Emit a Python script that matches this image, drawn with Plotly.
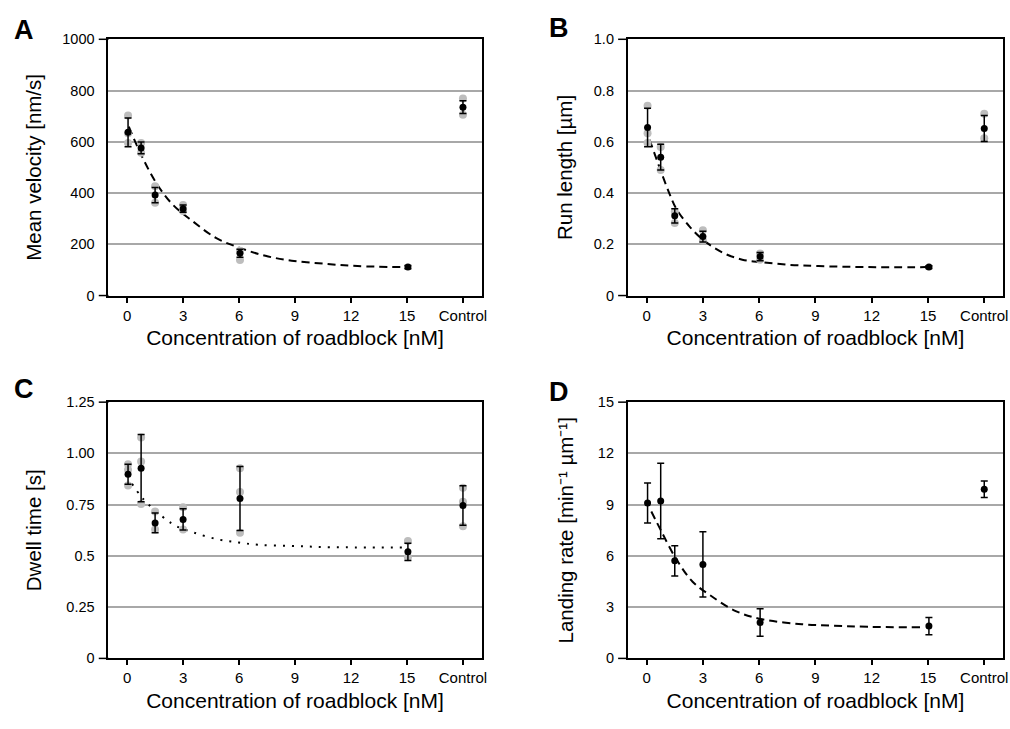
import plotly.graph_objects as go

W, H = 1010, 729

# ---------------- data ----------------
x_pos = [0.05, 0.75, 1.5, 3.0, 6.05, 15.05, 18.0]   # last = Control
x_tickvals = [0, 3, 6, 9, 12, 15, 18]
x_ticktext = ["0", "3", "6", "9", "12", "15", "Control"]

vel_mean = [637, 576, 392, 339, 165, 111, 735]
vel_err = [56, 23, 30, 14, 16, 6, 25]
vel_gray_x = [0.05, 0.05, 0.05, 0.75, 0.75, 1.5, 1.5, 3.0, 3.0, 6.05, 6.05, 18.0, 18.0]
vel_gray_y = [703, 633, 595, 595, 557, 427, 362, 353, 330, 175, 139, 769, 706]
vel_fit_x = [0.09, 0.79, 1.59, 2.47, 3.53, 4.76, 6.0, 7.41, 8.82, 10.6, 12.35, 14.8]
vel_fit_y = [659, 544, 436, 353, 289, 225, 187, 155, 136, 124, 115, 111]

run_mean = [0.656, 0.540, 0.311, 0.230, 0.152, 0.111, 0.652]
run_err = [0.075, 0.050, 0.028, 0.021, 0.016, 0.005, 0.051]
run_gray_x = [0.05, 0.05, 0.05, 0.75, 0.75, 1.5, 1.5, 3.0, 3.0, 6.05, 6.05, 18.0, 18.0]
run_gray_y = [0.741, 0.633, 0.595, 0.580, 0.490, 0.327, 0.283, 0.255, 0.215, 0.164, 0.140, 0.709, 0.614]
run_fit_x = [0.16, 0.69, 1.22, 1.57, 2.28, 2.98, 4.04, 5.1, 6.16, 7.57, 9.16, 11.8, 14.9]
run_fit_y = [0.608, 0.499, 0.397, 0.340, 0.270, 0.219, 0.168, 0.140, 0.130, 0.120, 0.115, 0.111, 0.111]

dwell_mean = [0.898, 0.928, 0.661, 0.678, 0.780, 0.520, 0.746]
dwell_err = [0.049, 0.164, 0.048, 0.052, 0.156, 0.042, 0.096]
dwell_gray_x = [0.05, 0.05, 0.05, 0.75, 0.75, 0.75, 1.5, 1.5, 3.0, 3.0, 6.05, 6.05, 6.05, 15.05, 15.05, 18.0, 18.0, 18.0]
dwell_gray_y = [0.947, 0.920, 0.844, 1.078, 0.960, 0.753, 0.717, 0.629, 0.737, 0.629, 0.927, 0.812, 0.613, 0.573, 0.494, 0.833, 0.764, 0.645]
dwell_fit_x = [0.26, 0.7, 1.09, 2.1, 2.65, 3.6, 4.9, 6.0, 7.06, 8.8, 10.6, 14.8]
dwell_fit_y = [0.852, 0.796, 0.756, 0.677, 0.645, 0.613, 0.580, 0.565, 0.554, 0.549, 0.543, 0.541]

land_mean = [9.10, 9.22, 5.71, 5.50, 2.10, 1.89, 9.90]
land_err = [1.17, 2.21, 0.88, 1.91, 0.80, 0.50, 0.48]
land_fit_x = [0.25, 0.78, 1.57, 2.45, 3.34, 4.75, 6.16, 8.28, 10.0, 11.8, 14.6]
land_fit_y = [8.6, 7.45, 5.83, 4.49, 3.73, 2.77, 2.29, 2.0, 1.91, 1.85, 1.82]

y_titles = ["Mean velocity [nm/s]", "Run length [µm]", "Dwell time [s]",
            "Landing rate [min⁻¹ µm⁻¹]"]
x_title = "Concentration of roadblock [nM]"
panel_letters = ["A", "B", "C", "D"]

# ---------------- layout helpers ----------------
FONT = "Liberation Sans, Arial, Helvetica, sans-serif"
def px(x):
    return x / W
def py(y):
    return 1 - y / H

panels = {
    1: dict(x0=109, x1=484, y0=32, y1=294),
    2: dict(x0=631, x1=1008, y0=32, y1=294),
    3: dict(x0=109, x1=484, y0=403, y1=665),
    4: dict(x0=631, x1=1008, y0=403, y1=665),
}

fig = go.Figure()

def add_panel(i, mean, err, gray_x, gray_y, fit_x, fit_y, dash):
    xa = "x" if i == 1 else f"x{i}"
    ya = "y" if i == 1 else f"y{i}"
    fig.add_trace(go.Scatter(x=fit_x, y=fit_y, mode="lines", line_shape="spline",
                             line=dict(color="black", width=2, dash=dash),
                             xaxis=xa, yaxis=ya, showlegend=False, hoverinfo="skip"))
    if gray_x:
        fig.add_trace(go.Scatter(x=gray_x, y=gray_y, mode="markers",
                                 marker=dict(color="#bdbdbd", size=8, line=dict(width=0)),
                                 xaxis=xa, yaxis=ya, showlegend=False))
    fig.add_trace(go.Scatter(x=x_pos, y=mean, mode="markers",
                             marker=dict(color="black", size=7),
                             error_y=dict(type="data", array=err, color="black",
                                          thickness=1.5, width=3.5),
                             xaxis=xa, yaxis=ya, showlegend=False))

add_panel(1, vel_mean, vel_err, vel_gray_x, vel_gray_y, vel_fit_x, vel_fit_y, "8px,5px")
add_panel(2, run_mean, run_err, run_gray_x, run_gray_y, run_fit_x, run_fit_y, "8px,5px")
add_panel(3, dwell_mean, dwell_err, dwell_gray_x, dwell_gray_y, dwell_fit_x, dwell_fit_y, "2px,7px")
add_panel(4, land_mean, land_err, [], [], land_fit_x, land_fit_y, "8px,5px")

y_specs = {
    1: dict(range=[0, 1000], tickvals=[0, 200, 400, 600, 800, 1000],
            ticktext=["0", "200", "400", "600", "800", "1000"]),
    2: dict(range=[0, 1.0], tickvals=[0, 0.2, 0.4, 0.6, 0.8, 1.0],
            ticktext=["0", "0.2", "0.4", "0.6", "0.8", "1.0"]),
    3: dict(range=[0, 1.25], tickvals=[0, 0.25, 0.5, 0.75, 1.0, 1.25],
            ticktext=["0", "0.25", "0.5", "0.75", "1.00", "1.25"]),
    4: dict(range=[0, 15], tickvals=[0, 3, 6, 9, 12, 15],
            ticktext=["0", "3", "6", "9", "12", "15"]),
}
y_standoff = {1: 15, 2: 16, 3: 19, 4: 19}

layout = dict(width=W, height=H, margin=dict(l=0, r=0, t=0, b=0),
              paper_bgcolor="white", plot_bgcolor="white",
              font=dict(family=FONT, color="black", size=14.5), showlegend=False)

shapes = []
for i, p in panels.items():
    xk = "xaxis" if i == 1 else f"xaxis{i}"
    yk = "yaxis" if i == 1 else f"yaxis{i}"
    xa = "x" if i == 1 else f"x{i}"
    ya = "y" if i == 1 else f"y{i}"
    layout[xk] = dict(domain=[px(p["x0"]), px(p["x1"])], anchor=ya, range=[-1, 19],
                      tickvals=x_tickvals, ticktext=x_ticktext,
                      ticks="outside", ticklen=5, tickwidth=1.5, tickcolor="black",
                      showline=True, mirror=True, linecolor="black", linewidth=2,
                      showgrid=False, zeroline=False,
                      tickfont=dict(size=15, family=FONT, color="black"),
                      title=dict(text=x_title, standoff=8,
                                 font=dict(size=21, family=FONT, color="black")))
    layout[yk] = dict(domain=[py(p["y1"]), py(p["y0"])], anchor=xa,
                      ticks="outside", ticklen=9, tickcolor="rgba(0,0,0,0)",
                      showline=True, mirror=True, linecolor="black", linewidth=2,
                      showgrid=True, gridcolor="#a8a8a8", gridwidth=1.5, zeroline=False,
                      tickfont=dict(size=14.5, family=FONT, color="black"),
                      title=dict(text=y_titles[i - 1], standoff=y_standoff[i],
                                 font=dict(size=20.5, family=FONT, color="black")),
                      **y_specs[i])
    # short outward ticks at the bottom and top of each y axis
    for yy in (0, 1):
        shapes.append(dict(type="line", xref=f"{xa} domain", yref=f"{ya} domain",
                           x0=-0.026, x1=0, y0=yy, y1=yy,
                           line=dict(color="black", width=1.5)))

layout["shapes"] = shapes
fig.update_layout(**layout)

letter_pos = {1: (24, 22), 2: (562, 20), 3: (24, 390), 4: (562, 393)}

for i, p in panels.items():
    lx, ly = letter_pos[i]
    fig.add_annotation(x=px(lx), y=py(ly), xref="paper", yref="paper",
                       text=panel_letters[i - 1], showarrow=False,
                       font=dict(size=27, family=FONT, color="black", weight="bold"),
                       xanchor="center", yanchor="middle")

fig.write_html("out.html")
